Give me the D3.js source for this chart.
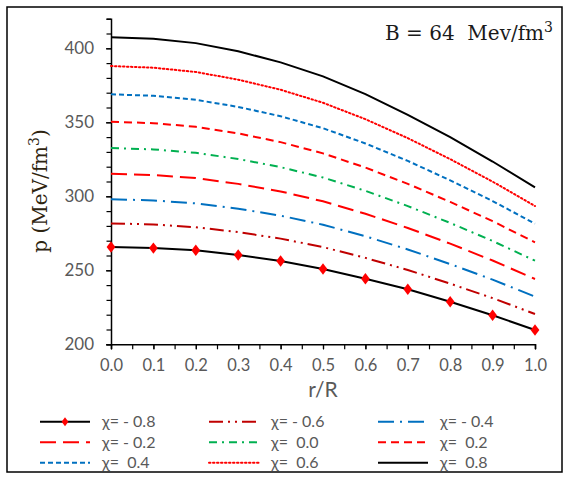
<!DOCTYPE html>
<html>
<head>
<meta charset="utf-8">
<script src="https://cdn.jsdelivr.net/npm/d3@7"></script>
<style>
  html, body { margin: 0; padding: 0; background: #fff; }
  svg { display: block; }
</style>
</head>
<body>
<svg id="chart" width="570" height="480"></svg>
<script>
// ---- data ----
const rValues = [0.0, 0.1, 0.2, 0.3, 0.4, 0.5, 0.6, 0.7, 0.8, 0.9, 1.0];
const chiLabels = ["χ= - 0.8", "χ= - 0.6", "χ= - 0.4", "χ= - 0.2", "χ=  0.0", "χ=  0.2", "χ=  0.4", "χ=  0.6", "χ=  0.8"];
const pChiM08 = [265.7, 265.0, 263.5, 260.3, 256.3, 250.9, 244.3, 237.2, 228.8, 219.6, 209.7];
const pChiM06 = [281.7, 281.0, 279.1, 275.8, 271.4, 265.7, 258.4, 250.2, 241.0, 231.2, 220.5];
const pChiM04 = [298.0, 297.2, 295.2, 291.6, 286.9, 280.8, 273.0, 264.1, 254.2, 243.7, 232.2];
const pChiM02 = [315.3, 314.4, 312.3, 308.4, 303.3, 296.6, 288.2, 278.6, 268.0, 256.6, 244.1];
const pChi00  = [332.6, 331.7, 329.4, 325.2, 319.7, 312.7, 303.7, 293.4, 282.0, 269.8, 256.5];
const pChiP02 = [350.4, 349.4, 347.0, 342.5, 336.6, 329.0, 319.4, 308.4, 296.2, 283.2, 268.9];
const pChiP04 = [368.9, 367.9, 365.2, 360.4, 354.1, 346.0, 335.7, 323.9, 310.8, 296.8, 281.5];
const pChiP06 = [388.0, 386.9, 384.0, 378.8, 372.0, 363.2, 352.1, 339.3, 325.1, 309.9, 293.4];
const pChiP08 = [407.5, 406.5, 403.5, 398.0, 390.5, 381.0, 369.0, 355.0, 340.0, 323.5, 306.0];
const xTickValues = [0.0, 0.1, 0.2, 0.3, 0.4, 0.5, 0.6, 0.7, 0.8, 0.9, 1.0];
const yTickValues = [200, 250, 300, 350, 400];

// ---- styles (kept apart from data) ----
const seriesData = [pChiM08, pChiM06, pChiM04, pChiM02, pChi00, pChiP02, pChiP04, pChiP06, pChiP08];
const styles = [
  { color: "#000000", dash: null, marker: true },
  { color: "#C00000", dash: "14,5,2,5,2,5" },
  { color: "#0070C0", dash: "16,6,2,6" },
  { color: "#FF0000", dash: "16,7" },
  { color: "#00B050", dash: "8,5,2,5" },
  { color: "#FF0000", dash: "8,5" },
  { color: "#0070C0", dash: "5,3" },
  { color: "#FF0000", dash: "1.5,2.5" },
  { color: "#000000", dash: null }
];

const svg = d3.select("#chart");
const font = "Lato, 'Open Sans', sans-serif";

// outer frame
svg.append("rect").attr("x", 7).attr("y", 7).attr("width", 555).attr("height", 465)
  .attr("fill", "#fff").attr("stroke", "#000").attr("stroke-width", 1.5);

const x = d3.scaleLinear().domain([0, 1]).range([111, 535]);
const y = d3.scaleLinear().domain([200, 420]).range([344.3, 18.7]);

// minor ticks
const gMinorY = svg.append("g").attr("transform", "translate(111,0)")
  .call(d3.axisLeft(y).tickValues(d3.range(200, 421, 10)).tickSize(4.5).tickFormat(""));
const gMinorX = svg.append("g").attr("transform", "translate(0,344.3)")
  .call(d3.axisBottom(x).tickValues(d3.range(0, 21).map(i => i / 20)).tickSize(5).tickFormat(""));
[gMinorY, gMinorX].forEach(g => {
  g.select(".domain").attr("stroke", "#000").attr("stroke-width", 1.5);
  g.selectAll(".tick line").attr("stroke", "#000").attr("stroke-width", 1.2);
});

// major labels
const gy = svg.append("g").attr("transform", "translate(111,0)")
  .call(d3.axisLeft(y).tickValues(yTickValues).tickSize(5).tickPadding(12).tickFormat(d3.format("d")));
gy.select(".domain").remove();
gy.selectAll(".tick line").attr("stroke", "#000").attr("stroke-width", 1.2);
gy.selectAll(".tick text").attr("font-family", font).attr("font-size", 17).attr("fill", "#595959");

const gx = svg.append("g").attr("transform", "translate(0,344.3)")
  .call(d3.axisBottom(x).tickValues(xTickValues).tickSize(5).tickPadding(10).tickFormat(d3.format(".1f")));
gx.select(".domain").remove();
gx.selectAll(".tick line").attr("stroke", "#000").attr("stroke-width", 1.2);
gx.selectAll(".tick text").attr("font-family", font).attr("font-size", 16.5).attr("fill", "#595959");

// lines
const line = d3.line().x((d, i) => x(rValues[i])).y(d => y(d));
seriesData.forEach((vals, k) => {
  const st = styles[k];
  svg.append("path").datum(vals)
    .attr("d", line).attr("fill", "none")
    .attr("stroke", st.color).attr("stroke-width", 2)
    .attr("stroke-dasharray", st.dash)
    .attr("stroke-linecap", st.dash && st.dash.startsWith("1.5") ? "round" : "butt");
  if (st.marker) {
    svg.append("g").selectAll("path").data(vals).join("path")
      .attr("d", d3.symbol().type(d3.symbolDiamond).size(50))
      .attr("transform", (d, i) => `translate(${x(rValues[i])},${y(d)}) scale(1.15,0.87)`)
      .attr("fill", "#FF0000");
  }
});

// axis titles
svg.append("text").attr("x", 323).attr("y", 397).attr("text-anchor", "middle")
  .attr("font-family", font).attr("font-size", 21).attr("fill", "#595959").text("r/R");

const yl = svg.append("text").attr("transform", "translate(47,191) rotate(-90)")
  .attr("text-anchor", "middle").attr("font-family", "'DejaVu Serif', serif")
  .attr("font-size", 20).attr("fill", "#2e2410");
yl.append("tspan").text("p (MeV/fm");
yl.append("tspan").attr("dy", -8).attr("font-size", 14).text("3");
yl.append("tspan").attr("dy", 8).text(")");

// annotation
const ann = svg.append("text").attr("x", 553).attr("y", 40).attr("text-anchor", "end")
  .attr("font-family", "'DejaVu Serif', serif").attr("font-size", 20).attr("fill", "#1a1a1a")
  .attr("xml:space", "preserve").style("white-space", "pre");
ann.append("tspan").text("B = 64  Mev/fm");
ann.append("tspan").attr("dy", -8).attr("font-size", 14).text("3");

// legend
const colX = [40, 209, 378];
const rowY = [421.7, 442.3, 462.7];
chiLabels.forEach((lab, k) => {
  const cx = colX[k % 3], cy = rowY[Math.floor(k / 3)];
  const st = styles[k];
  const g = svg.append("g");
  g.append("line").attr("x1", cx).attr("x2", cx + 50).attr("y1", cy).attr("y2", cy)
    .attr("stroke", st.color).attr("stroke-width", 2).attr("stroke-dasharray", st.dash)
    .attr("stroke-linecap", st.dash && st.dash.startsWith("1.5") ? "round" : "butt");
  if (st.marker) {
    g.append("path").attr("d", d3.symbol().type(d3.symbolDiamond).size(30))
      .attr("transform", `translate(${cx + 25},${cy}) scale(1.15,0.87)`).attr("fill", "#FF0000");
  }
  g.append("text").attr("x", cx + 62).attr("y", cy + 5.5)
    .attr("font-family", font).attr("font-size", 16).attr("fill", "#595959")
    .attr("xml:space", "preserve").style("white-space", "pre").text(lab);
});
</script>
</body>
</html>
